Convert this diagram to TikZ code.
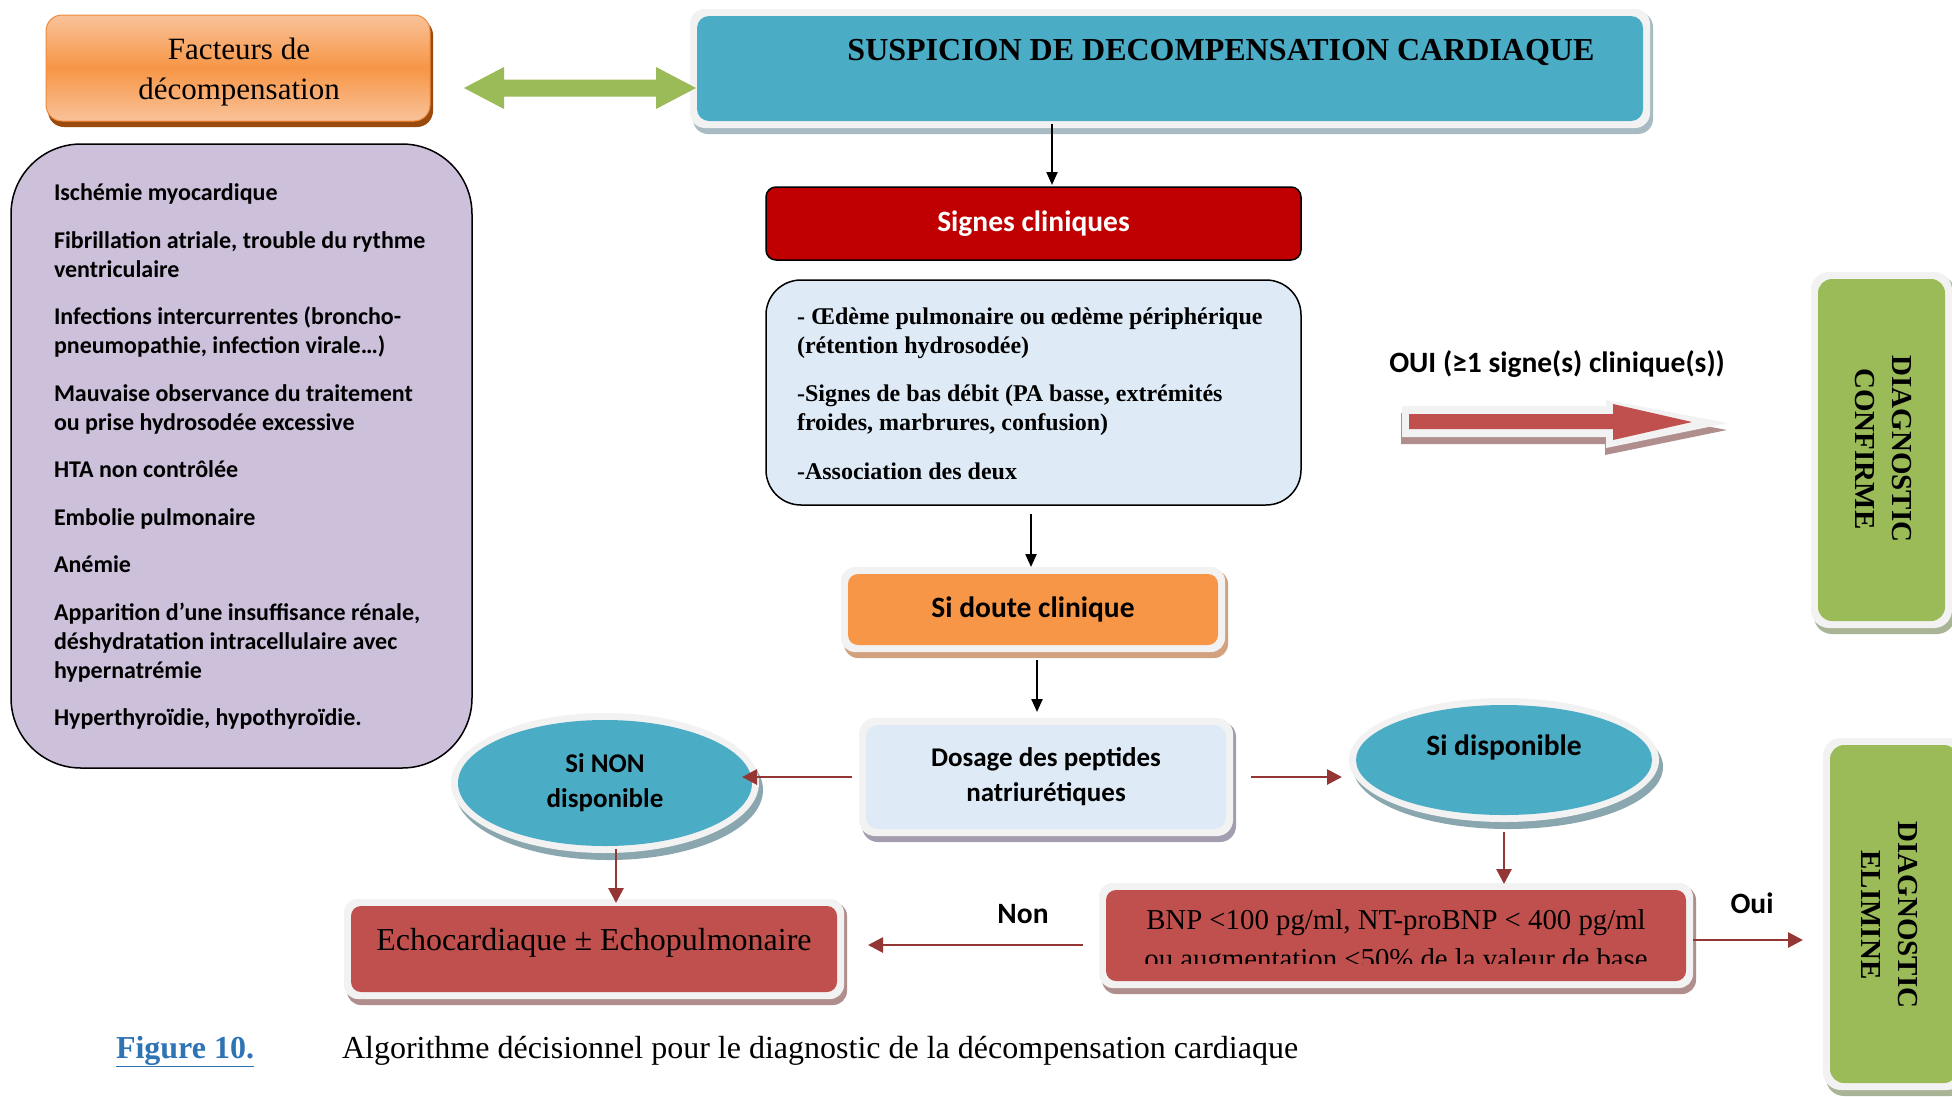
\documentclass[tikz,border=0pt]{standalone}
\usepackage{fontspec}
\setmainfont{Liberation Serif}
\newfontfamily\calib{Carlito}
\usetikzlibrary{arrows.meta,shapes.geometric,calc}
\definecolor{cblue}{HTML}{4BACC6}
\definecolor{corange}{HTML}{F79646}
\definecolor{cred}{HTML}{C0504D}
\definecolor{cgreen}{HTML}{9BBB59}
\definecolor{cdarkred}{HTML}{C00000}
\definecolor{clight}{HTML}{DEEAF6}
\definecolor{cpurple}{HTML}{CCC0DA}
\definecolor{cconn}{HTML}{943634}
\definecolor{cframe}{HTML}{F2F2F2}
\definecolor{cfig}{HTML}{2E74B5}
\definecolor{shblue}{HTML}{A8BAC2}
\definecolor{shorange}{HTML}{D2A27E}
\definecolor{shlight}{HTML}{A49DAF}
\definecolor{shell}{HTML}{8AA6AE}
\definecolor{shred}{HTML}{B08E8D}
\definecolor{shgreen}{HTML}{A9B496}
\definecolor{facttop}{HTML}{F9C29A}
\definecolor{factline}{HTML}{EE8A3C}
\definecolor{factshadow}{HTML}{9A4A0C}
\pgfdeclarelayer{bg}
\pgfsetlayers{bg,main}
\newcommand\wframe[3]{%
  \begin{pgfonlayer}{bg}
    \fill[#2,rounded corners=#3] ([shift={(-4,-4)}]#1.north west) rectangle ([shift={(10,13)}]#1.south east);
    \fill[cframe,rounded corners=#3] ([shift={(-7,-7)}]#1.north west) rectangle ([shift={(7,7)}]#1.south east);
  \end{pgfonlayer}}
\newcommand\wellipse[4]{%
  \begin{pgfonlayer}{bg}
    \fill[#2] ([shift={(4,7)}]#1.center) ellipse [x radius=#3pt+7pt, y radius=#4pt+7pt];
    \fill[cframe] (#1.center) ellipse [x radius=#3pt+7pt, y radius=#4pt+7pt];
  \end{pgfonlayer}}
\tikzset{
  every node/.style={inner sep=0pt,outer sep=0pt},
  factlbl/.style={font=\calib\bfseries\fontsize{24}{29}\selectfont, anchor=base west},
  clinlbl/.style={font=\bfseries\fontsize{24}{29}\selectfont, anchor=base west},
  calbig/.style={font=\calib\bfseries\fontsize{29.5}{36}\selectfont},
  calmid/.style={font=\calib\bfseries\fontsize{27}{35}\selectfont, align=center},
  barrow/.style={draw=black, line width=2.2pt, -{Triangle[length=13pt,width=11pt]}},
  rarrow/.style={draw=cconn, line width=2.8pt, -{Triangle[length=15pt,width=15pt]}},
  framedbox/.style={rectangle, rounded corners=#1},
}
\begin{document}
\begin{tikzpicture}[x=1pt,y=-1pt]
\useasboundingbox (0,0) rectangle (1952,1096);
\begin{pgfonlayer}{bg}
\fill[white] (0,0) rectangle (1952,1096);
\end{pgfonlayer}

% ---------- Facteurs de decompensation
\node[framedbox=16pt, top color=facttop, bottom color=facttop, middle color=corange, draw=factline, line width=1pt,
      minimum width=384pt, minimum height=106pt] (fact) at (238,68) {};
\begin{pgfonlayer}{bg}
\fill[factshadow, rounded corners=16pt] ([shift={(2,4)}]fact.north west) rectangle ([shift={(3,6)}]fact.south east);
\end{pgfonlayer}
\node[anchor=base, font=\fontsize{31}{38}\selectfont] (fact1) at (239,59.5) {Facteurs de};
\node[anchor=base, font=\fontsize{31}{38}\selectfont] (fact2) at (239,99) {décompensation};

% ---------- list of factors
\node[draw=black, line width=1.5pt, fill=cpurple, rounded corners=70pt, minimum width=461pt, minimum height=624pt] (facts) at (241.5,456) {};
\node[factlbl] (f1) at (54,200.5) {Ischémie myocardique};
\node[factlbl] (f2) at (54,248) {Fibrillation atriale, trouble du rythme};
\node[factlbl] (f2b) at (54,277) {ventriculaire};
\node[factlbl] (f3) at (54,324.5) {Infections intercurrentes (broncho-};
\node[factlbl] (f3b) at (54,353.5) {pneumopathie, infection virale…)};
\node[factlbl] (f4) at (54,401) {Mauvaise observance du traitement};
\node[factlbl] (f4b) at (54,430) {ou prise hydrosodée excessive};
\node[factlbl] (f5) at (54,477.5) {HTA non contrôlée};
\node[factlbl] (f6) at (54,525) {Embolie pulmonaire};
\node[factlbl] (f7) at (54,572.5) {Anémie};
\node[factlbl] (f8) at (54,620) {Apparition d’une insuffisance rénale,};
\node[factlbl] (f8b) at (54,649) {déshydratation intracellulaire avec};
\node[factlbl] (f8c) at (54,678) {hypernatrémie};
\node[factlbl] (f9) at (54,725.5) {Hyperthyroïdie, hypothyroïdie.};

% ---------- green double arrow
\coordinate (gl) at (464,88);
\coordinate (gr) at (696,88);
\fill[cgreen] (gl) -- ($(gl)+(40,-21)$) -- ($(gl)+(40,-8.5)$) -- ($(gr)+(-40,-8.5)$) -- ($(gr)+(-40,-21)$) -- (gr)
  -- ($(gr)+(-40,21)$) -- ($(gr)+(-40,8.5)$) -- ($(gl)+(40,8.5)$) -- ($(gl)+(40,21)$) -- cycle;

% ---------- Suspicion
\node[framedbox=12pt, fill=cblue, minimum width=946pt, minimum height=105pt] (susp) at (1170,68.5) {};
\wframe{susp}{shblue}{15pt}
\node[anchor=base, font=\bfseries\fontsize{32}{38}\selectfont] (susptxt) at (1221,60) {SUSPICION DE DECOMPENSATION CARDIAQUE};

% ---------- Signes cliniques
\node[framedbox=10pt, draw=black, line width=1.5pt, fill=cdarkred, text=white, calbig,
      minimum width=535pt, minimum height=73pt] (signes) at (1033.5,223.5) {Signes cliniques};

\node[framedbox=35pt, draw=black, line width=1.5pt, fill=clight, minimum width=535pt, minimum height=225pt] (clin) at (1033.5,392.5) {};
\node[clinlbl] (s1) at (797,324) {- Œdème pulmonaire ou œdème périphérique};
\node[clinlbl] (s1b) at (797,353) {(rétention hydrosodée)};
\node[clinlbl] (s2) at (797,401) {-Signes de bas débit (PA basse, extrémités};
\node[clinlbl] (s2b) at (797,430) {froides, marbrures, confusion)};
\node[clinlbl] (s3) at (797,479) {-Association des deux};

% ---------- OUI arrow and label
\node[calbig] (oui1) at (1557,364) {OUI (≥1 signe(s) clinique(s))};
\coordinate (ra) at (1402,421.5);
\fill[shred] ($(ra)+(-1,-8.5)$) -- ($(ra)+(203,-8.5)$) -- ($(ra)+(203,-14.5)$) -- ($(ra)+(325,8.5)$) -- ($(ra)+(203,33.5)$) -- ($(ra)+(203,22.5)$) -- ($(ra)+(-1,22.5)$) -- cycle;
\fill[cframe] ($(ra)+(0,-15.5)$) -- ($(ra)+(204,-15.5)$) -- ($(ra)+(204,-21.5)$) -- ($(ra)+(326,1.5)$) -- ($(ra)+(204,26.5)$) -- ($(ra)+(204,15.5)$) -- ($(ra)+(0,15.5)$) -- cycle;
\fill[cred] ($(ra)+(7,-7.5)$) -- ($(ra)+(211,-7.5)$) -- ($(ra)+(211,-17.5)$) -- ($(ra)+(290,0.5)$) -- ($(ra)+(211,18.5)$) -- ($(ra)+(211,7.5)$) -- ($(ra)+(7,7.5)$) -- cycle;

% ---------- Diagnostic confirme
\node[framedbox=14pt, fill=cgreen, minimum width=127pt, minimum height=342pt] (conf) at (1881.5,450) {};
\wframe{conf}{shgreen}{18pt}
\node[rotate=-90, align=center, font=\bfseries\fontsize{29}{37}\selectfont] (conftxt) at (1883,449) {DIAGNOSTIC\\CONFIRME};

% ---------- Si doute clinique
\node[framedbox=10pt, fill=corange, calbig, minimum width=370pt, minimum height=71pt] (doute) at (1033,609.5) {Si doute clinique};
\wframe{doute}{shorange}{14pt}

% ---------- Dosage
\node[framedbox=12pt, fill=clight, calmid, minimum width=360pt, minimum height=104pt] (dosage) at (1046,777) {Dosage des peptides\\natriurétiques};
\wframe{dosage}{shlight}{16pt}

% ---------- ellipses
\node[ellipse, fill=cblue, calmid, minimum width=294pt, minimum height=126pt] (sinon) at (605,783) {Si NON\\disponible};
\wellipse{sinon}{shell}{147}{63}
\node[ellipse, fill=cblue, minimum width=296pt, minimum height=110pt] (sidispo) at (1504,760) {};
\wellipse{sidispo}{shell}{148}{55}
\node[calbig] (sidispotxt) at (1504,747) {Si disponible};

% ---------- Echo
\node[framedbox=10pt, fill=cred, minimum width=486pt, minimum height=86pt] (echo) at (594,949) {};
\wframe{echo}{shred}{14pt}
\node[anchor=base, font=\fontsize{32}{38}\selectfont] (echotxt) at (594,950) {Echocardiaque ± Echopulmonaire};

% ---------- BNP
\node[framedbox=10pt, fill=cred, minimum width=580pt, minimum height=91pt] (bnp) at (1396,935.5) {};
\wframe{bnp}{shred}{14pt}
\begin{scope}
\clip (bnp.north west) rectangle ($(bnp.south east)+(0,-18)$);
\node[anchor=base, font=\fontsize{28.8}{37}\selectfont] (bnp1) at (1396,929) {BNP <100 pg/ml, NT-proBNP < 400 pg/ml};
\node[anchor=base, font=\fontsize{28.8}{37}\selectfont] (bnp2) at (1396,968) {ou augmentation <50\% de la valeur de base};
\end{scope}

% ---------- Diagnostic elimine
\node[framedbox=14pt, fill=cgreen, minimum width=128pt, minimum height=338pt] (elim) at (1894,914) {};
\wframe{elim}{shgreen}{18pt}
\node[rotate=-90, align=center, font=\bfseries\fontsize{29}{37}\selectfont] (elimtxt) at (1890,915) {DIAGNOSTIC\\ELIMINE};

% ---------- labels
\node[calbig] (nonlbl) at (1023,914) {Non};
\node[calbig] (ouilbl) at (1752,903) {Oui};

% ---------- connectors
\coordinate (c1) at (1052,0);
\coordinate (c2) at (1031,0);
\coordinate (c3) at (1037,0);
\coordinate (c4) at (616,0);
\coordinate (c5) at (0,945);
\coordinate (c6) at (0,940);
\draw[barrow, shorten <=3pt, shorten >=2pt] (susp.south -| c1) -- (signes.north -| c1);
\draw[barrow, shorten <=9pt, shorten >=7pt] (clin.south -| c2) -- (doute.north -| c2);
\draw[barrow, shorten <=15pt, shorten >=13pt] (doute.south -| c3) -- (dosage.north -| c3);
\draw[rarrow, shorten <=14pt, shorten >=-10pt] (dosage.west) -- (sinon.east |- dosage.west);
\draw[rarrow, shorten <=25pt, shorten >=14pt] (dosage.east) -- (sidispo.west |- dosage.east);
\draw[rarrow, shorten <=17pt, shorten >=6pt] (sidispo.south) -- (bnp.north -| sidispo.south);
\draw[rarrow, shorten <=3pt, shorten >=3pt] (sinon.south -| c4) -- (echo.north -| c4);
\draw[rarrow, shorten <=23pt, shorten >=31pt] (bnp.west |- c5) -- (echo.east |- c5);
\draw[rarrow, shorten <=7pt, shorten >=27pt] (bnp.east |- c6) -- (elim.west |- c6);

% ---------- caption
\node[anchor=base west, font=\bfseries\fontsize{32}{38}\selectfont, text=cfig] (figlbl) at (116,1058) {\underline{Figure 10.}};
\node[anchor=base west, font=\fontsize{32}{38}\selectfont] (caption) at (342,1058) {Algorithme décisionnel pour le diagnostic de la décompensation cardiaque};
\end{tikzpicture}
\end{document}
